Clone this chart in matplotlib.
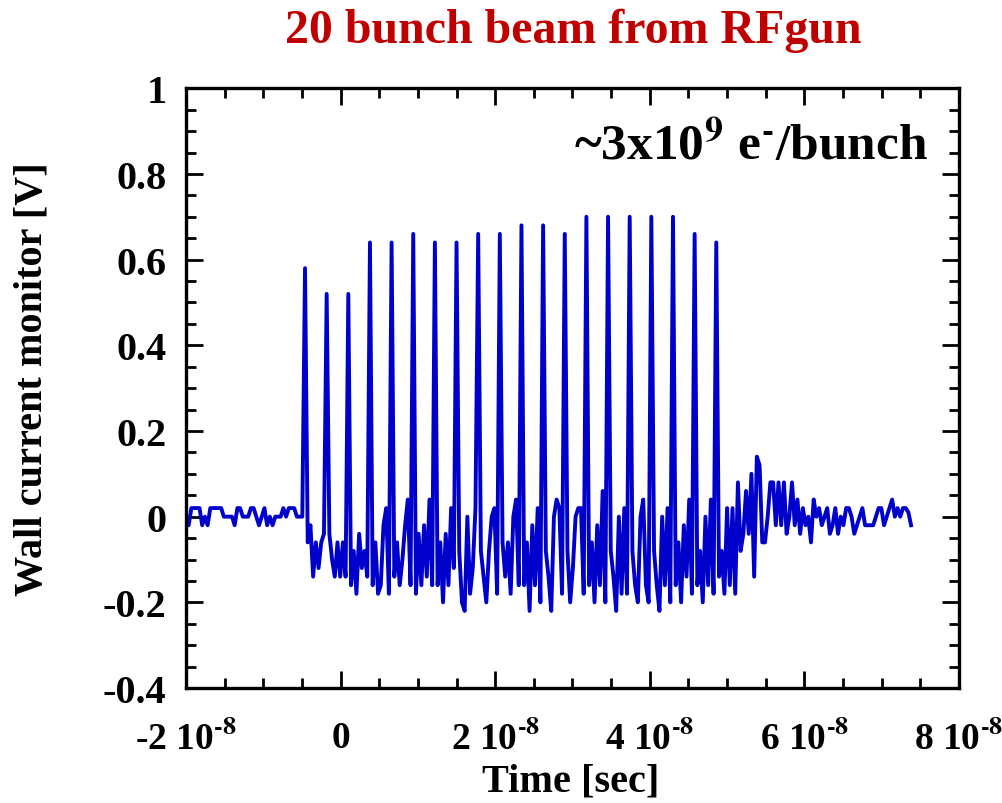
import numpy as np
import matplotlib.pyplot as plt
from matplotlib.ticker import MultipleLocator, FuncFormatter

plt.rcParams['font.family'] = 'Liberation Serif'
plt.rcParams['font.weight'] = 'bold'
plt.rcParams['mathtext.fontset'] = 'stix'
plt.rcParams['mathtext.default'] = 'bf'

# scope trace: samples every 0.35 ns starting at -20 ns
t_start = -2.0e-8
dt = 0.35e-9

# baseline before the train
head = [0, -0.02, 0.02, 0.02, 0.02, 0.02, -0.02, 0, -0.02, 0.02,
        0.02, 0.02, 0.02, 0.02, 0, 0, 0, 0, -0.02, 0.02,
        0.02, 0, 0, 0, 0.02, 0.02, 0, -0.02, 0, 0.02,
        -0.02, 0, -0.02, 0, 0, 0, 0.02, 0, 0.02, 0.02,
        0.02, 0, 0, 0]

# peak height of each of the 20 bunches
peaks = [0.58, 0.52, 0.52, 0.64, 0.64, 0.66, 0.64, 0.64, 0.66, 0.66,
         0.68, 0.68, 0.66, 0.70, 0.70, 0.70, 0.70, 0.70, 0.66, 0.64]

# samples between one bunch and the next
between = [
    [-0.06, -0.02, -0.14, -0.06, -0.12, -0.06, -0.04],
    [-0.04, -0.10, -0.14, -0.06, -0.14, -0.06, -0.14],
    [-0.16, -0.08, -0.18, -0.04, -0.12, -0.08, -0.14],
    [-0.16, -0.06, -0.18, -0.16, -0.02, 0.02, -0.18],
    [-0.14, -0.06, -0.16, -0.10, -0.02, 0.04, -0.16],
    [-0.18, -0.04, -0.16, -0.02, -0.14, 0.04, -0.16],
    [-0.16, -0.06, -0.20, -0.04, -0.16, 0.02, -0.12],
    [-0.08, -0.20, -0.22, 0.0, -0.18, -0.12, 0.02],
    [-0.08, -0.14, -0.20, -0.08, 0.0, 0.02, -0.18],
    [-0.06, -0.14, -0.06, -0.18, 0.0, 0.04, -0.16],
    [-0.16, -0.06, -0.22, -0.02, -0.16, 0.02, -0.20],
    [-0.08, -0.14, -0.22, 0.0, 0.04, 0.02, -0.18],
    [-0.08, -0.20, -0.12, 0.0, 0.02, 0.02, -0.18],
    [-0.16, -0.06, -0.20, -0.02, -0.16, 0.06, -0.20],
    [-0.08, -0.14, -0.22, 0.0, -0.18, 0.02, -0.18],
    [-0.08, -0.16, -0.20, 0.0, 0.04, -0.16, -0.20],
    [-0.08, -0.16, -0.22, 0.0, -0.16, 0.02, -0.20],
    [-0.16, -0.06, -0.20, -0.02, -0.14, 0.04, -0.18],
    [-0.16, -0.08, -0.20, 0.0, -0.16, 0.04, -0.18],
    [-0.14, -0.08, -0.18, 0.02, -0.16, 0.02, -0.18],
]

# ringing after the train
tail = [0.08, -0.08, -0.04, 0.06, -0.04, 0.10, -0.14, 0.14, 0.12, -0.06,
        -0.06, 0.0, 0.08, 0.08, -0.02, 0.08, -0.02, 0.08, -0.04, 0.0,
        0.08, -0.02, 0.04, -0.04, 0.02, -0.02, 0.0, -0.06, 0.04, 0.0,
        0.02, -0.02, 0.0, 0.02, -0.04, -0.02, 0.02, -0.04, 0.0, -0.02,
        0.02, 0.02, 0.0, -0.04, -0.02, 0.0, 0.02, -0.02, -0.02, -0.02,
        -0.02, 0.0, 0.02, 0.02, -0.02, 0.0, 0.02, 0.04, 0.0, 0.02,
        0.0, 0.02, 0.02, 0.01, -0.02]

volts = list(head)
for p, b in zip(peaks, between):
    volts.append(p)
    volts.extend(b)
volts.extend(tail)
volts = np.array(volts)
time = t_start + dt * np.arange(len(volts))

fig = plt.figure(figsize=(10.02, 8.04), dpi=100)
ax = fig.add_axes([0.1856, 0.143, 0.7715, 0.746])

ax.plot(time, volts, color='#0000CC', lw=2.8)

ax.set_xlim(-2e-8, 8e-8)
ax.set_ylim(-0.4, 1.0)
ax.xaxis.set_major_locator(MultipleLocator(2e-8))
ax.xaxis.set_minor_locator(MultipleLocator(0.5e-8))
ax.yaxis.set_major_locator(MultipleLocator(0.2))
ax.yaxis.set_minor_locator(MultipleLocator(0.05))


def xfmt(v, pos):
    n = int(round(v / 1e-8))
    if n == 0:
        return '0'
    return r'%d 10$^{\text{-}8}$' % n


def yfmt(v, pos):
    return '%g' % round(v, 2)


ax.xaxis.set_major_formatter(FuncFormatter(xfmt))
ax.yaxis.set_major_formatter(FuncFormatter(yfmt))
ax.tick_params(which='both', direction='in', top=True, right=True, width=2)
ax.tick_params(which='major', length=12)
ax.tick_params(which='minor', length=7)
ax.tick_params(axis='x', pad=23, labelsize=27)
ax.tick_params(axis='y', pad=14, labelsize=29)
for s in ax.spines.values():
    s.set_linewidth(2.4)

fig.text(0.572, 1 - 31 / 804, '20 bunch beam from RFgun', color='#C00000',
         fontsize=34.5, fontweight='bold', ha='center', va='center')
fig.text(0.570, 1 - 782 / 804, 'Time [sec]', fontsize=29, fontweight='bold',
         ha='center', va='center')
fig.text(0.032, 1 - 379 / 804, 'Wall current monitor [V]', fontsize=29,
         fontweight='bold', ha='center', va='center', rotation=90)
fig.text(928 / 1002, 1 - 160 / 804, r'~3x10$^9$ e$^{\text{-}}$/bunch',
         fontsize=37, fontweight='bold', ha='right', va='baseline')

fig.savefig('out.png', dpi=100)
